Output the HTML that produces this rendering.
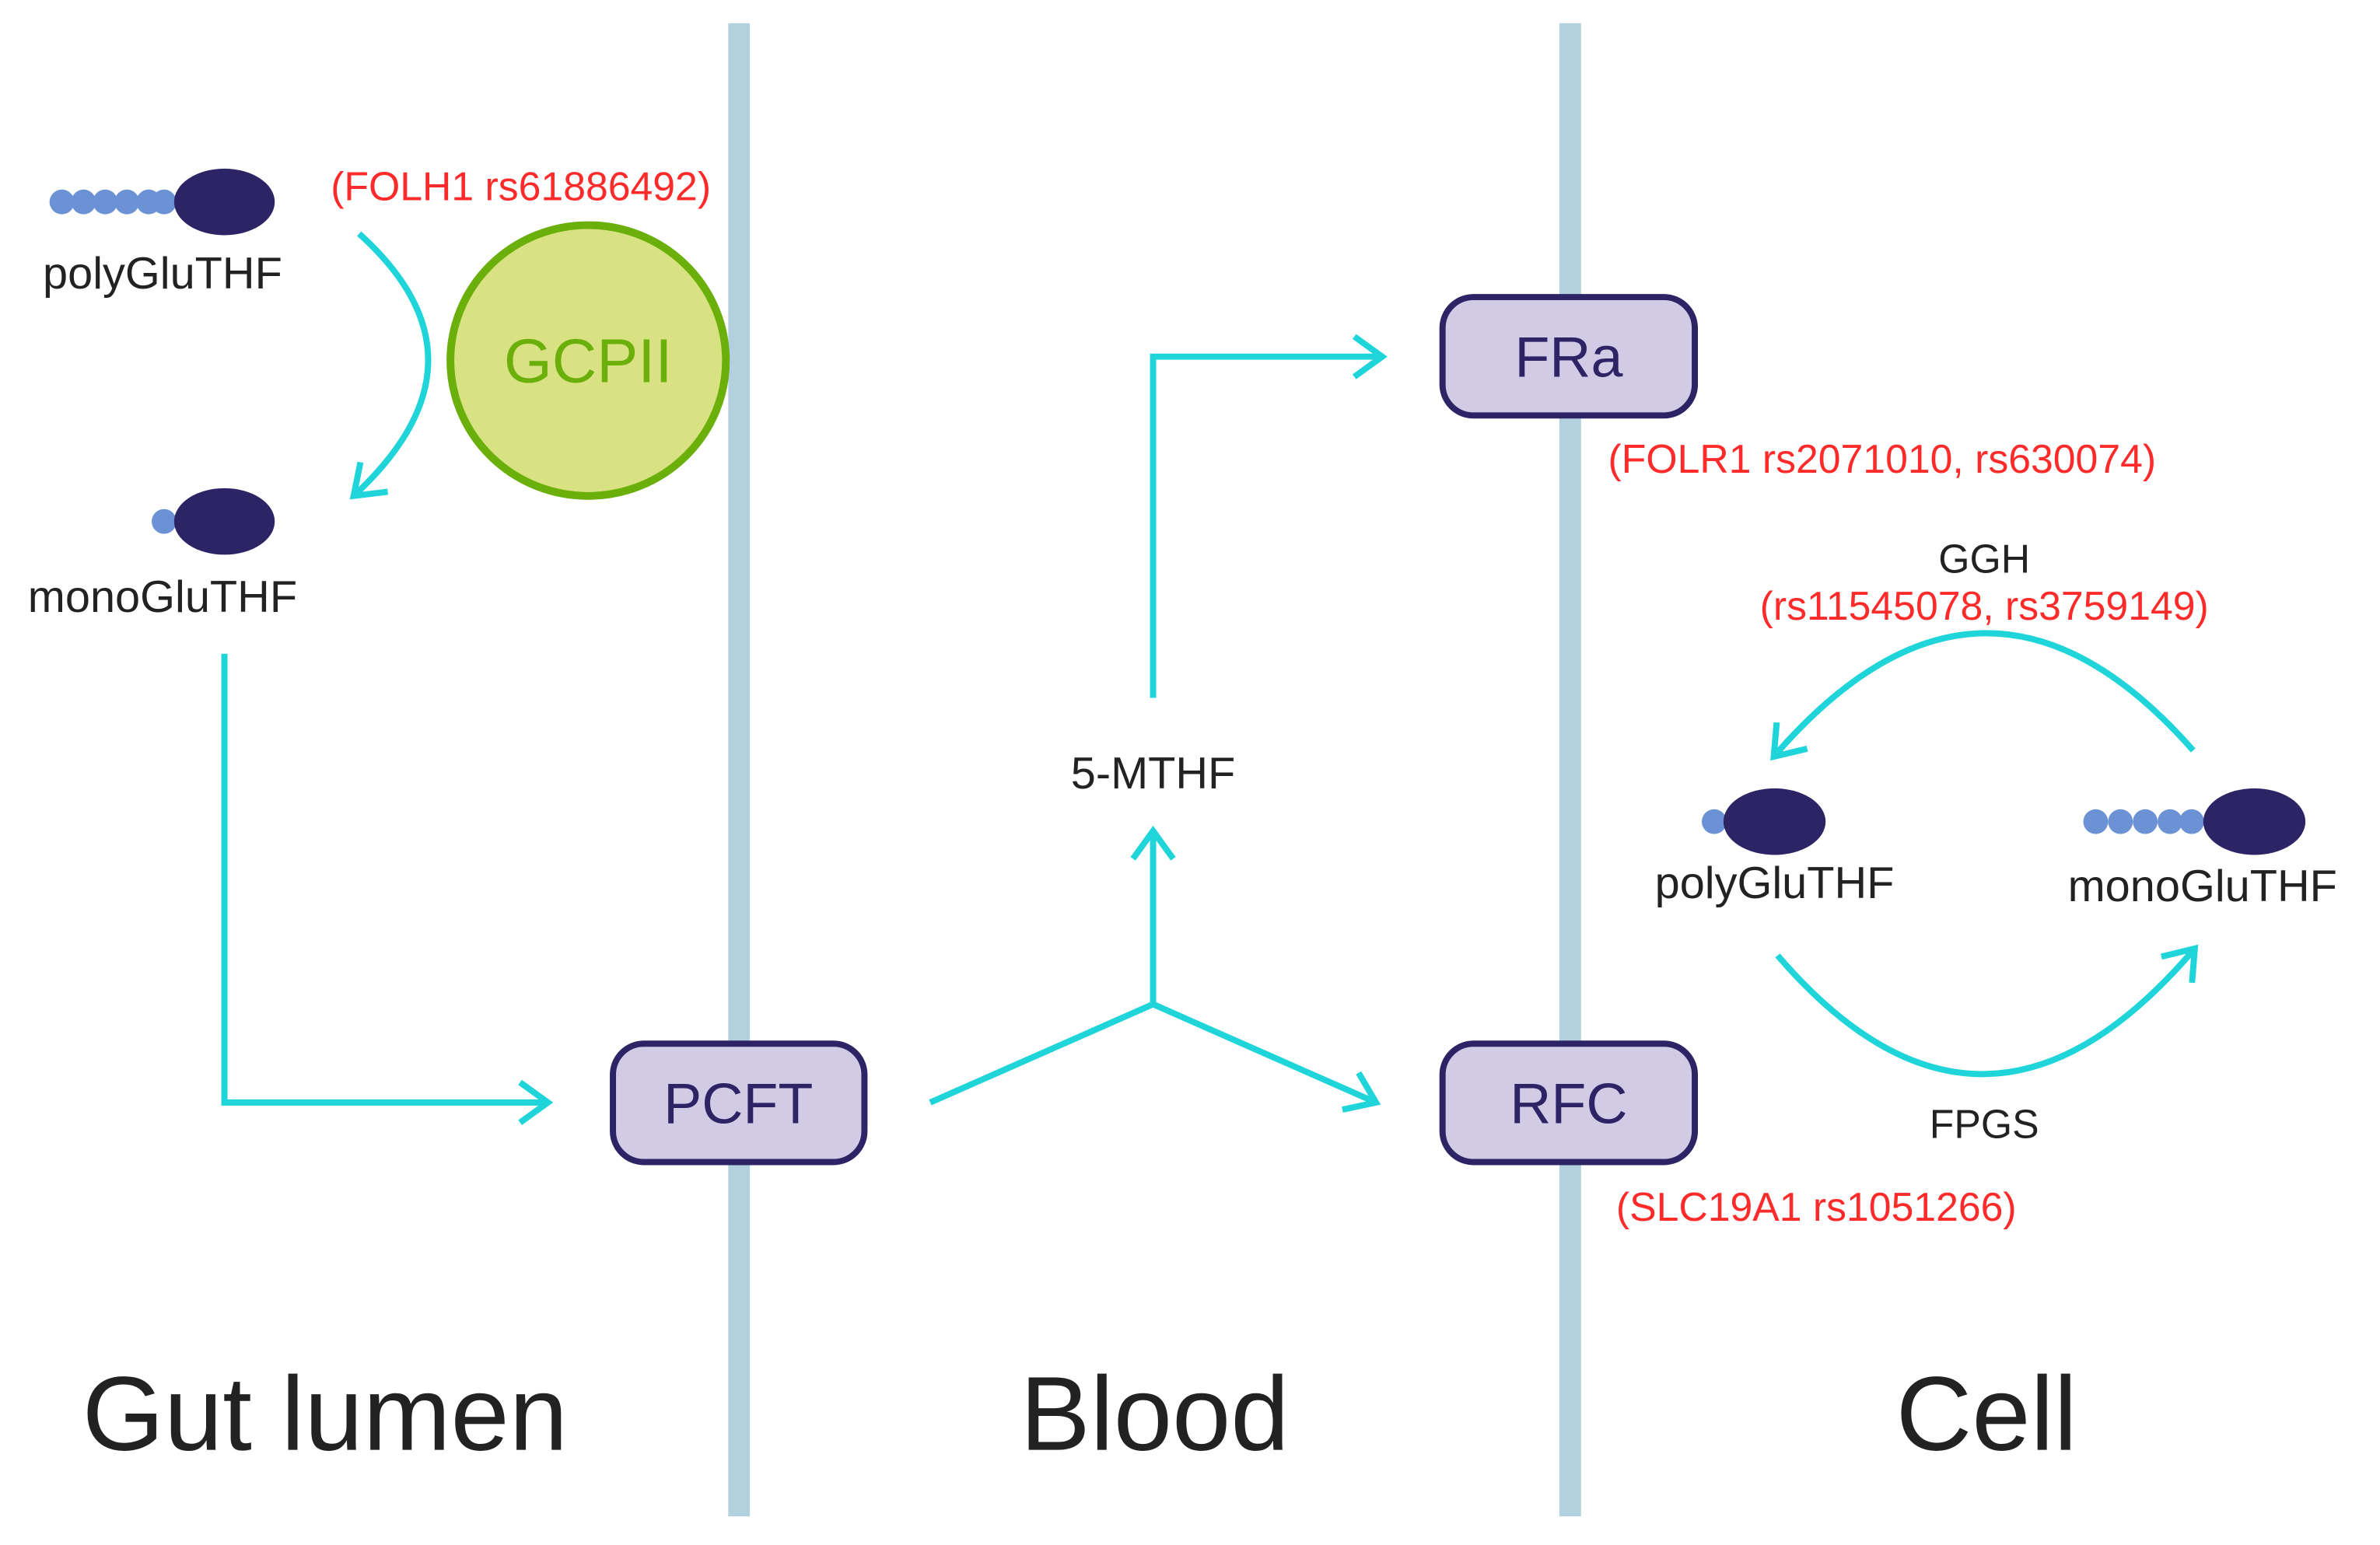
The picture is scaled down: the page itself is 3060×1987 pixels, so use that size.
<!DOCTYPE html>
<html><head><meta charset="utf-8"><style>
html,body{margin:0;padding:0;background:#fff;}
svg{display:block;}
text{font-family:"Liberation Sans",Arial,sans-serif;}
</style></head><body>
<svg width="3060" height="1987" viewBox="0 0 3060 1987" xmlns="http://www.w3.org/2000/svg">
<defs>
<marker id="ah" markerUnits="userSpaceOnUse" viewBox="-45 -35 55 70" refX="0" refY="0" markerWidth="55" markerHeight="70" orient="auto">
<path d="M-36,-26 L0,0 L-36,26" fill="none" stroke="#1fd5d9" stroke-width="8"/>
</marker>
</defs>
<rect width="3060" height="1987" fill="#fff"/>
<g transform="scale(0.995)">
<rect x="941" y="30" width="28" height="1930" fill="#b3d0df"/>
<rect x="2015" y="30" width="28" height="1930" fill="#b3d0df"/>

<g fill="#6a92d4">
<circle cx="80" cy="261" r="16"/><circle cx="108" cy="261" r="16"/><circle cx="136" cy="261" r="16"/><circle cx="164" cy="261" r="16"/><circle cx="192" cy="261" r="16"/><circle cx="212" cy="261" r="16"/>
</g>
<ellipse cx="290" cy="261" rx="65" ry="43" fill="#2d2466"/>
<text x="210" y="373" font-size="58" text-anchor="middle" fill="#222">polyGluTHF</text>
<text x="673" y="259" font-size="52" text-anchor="middle" fill="#ff2a2a">(FOLH1 rs61886492)</text>

<ellipse cx="760" cy="466" rx="178" ry="175" fill="#d8e283" stroke="#6aaf0a" stroke-width="10"/>
<text x="760" y="494" font-size="80" text-anchor="middle" fill="#6aaf0a">GCPII</text>

<path d="M464,302 Q646,466 457,641" fill="none" stroke="#1fd5d9" stroke-width="8" marker-end="url(#ah)"/>

<circle cx="212" cy="674" r="16" fill="#6a92d4"/>
<ellipse cx="290" cy="674" rx="65" ry="43" fill="#2d2466"/>
<text x="210" y="791" font-size="58" text-anchor="middle" fill="#222">monoGluTHF</text>

<path d="M290,845 L290,1425 L708,1425" fill="none" stroke="#1fd5d9" stroke-width="8" marker-end="url(#ah)"/>

<rect x="792" y="1349" width="325" height="153" rx="40" fill="#d1cbe6" stroke="#2d2466" stroke-width="8"/>
<text x="954" y="1452" font-size="74" text-anchor="middle" fill="#2d2466">PCFT</text>

<path d="M1202,1425 L1490,1298 L1778,1425" fill="none" stroke="#1fd5d9" stroke-width="8" marker-end="url(#ah)"/>
<path d="M1490,1298 L1490,1074" fill="none" stroke="#1fd5d9" stroke-width="8" marker-end="url(#ah)"/>
<text x="1490" y="1019" font-size="58" text-anchor="middle" fill="#222">5-MTHF</text>
<path d="M1490,902 L1490,461 L1786,461" fill="none" stroke="#1fd5d9" stroke-width="8" marker-end="url(#ah)"/>

<rect x="1864" y="384" width="326" height="153" rx="40" fill="#d1cbe6" stroke="#2d2466" stroke-width="8"/>
<text x="2027" y="487" font-size="74" text-anchor="middle" fill="#2d2466">FRa</text>
<text x="2432" y="611" font-size="52" text-anchor="middle" fill="#ff2a2a">(FOLR1 rs2071010, rs630074)</text>

<rect x="1864" y="1349" width="326" height="153" rx="40" fill="#d1cbe6" stroke="#2d2466" stroke-width="8"/>
<text x="2027" y="1452" font-size="74" text-anchor="middle" fill="#2d2466">RFC</text>
<text x="2347" y="1578" font-size="52" text-anchor="middle" fill="#ff2a2a">(SLC19A1 rs1051266)</text>

<text x="2564" y="740" font-size="52" text-anchor="middle" fill="#222">GGH</text>
<text x="2564" y="801" font-size="52" text-anchor="middle" fill="#ff2a2a">(rs11545078, rs3759149)</text>
<path d="M2834,970 Q2564,663 2292,978" fill="none" stroke="#1fd5d9" stroke-width="8" marker-end="url(#ah)"/>

<circle cx="2215" cy="1062" r="16" fill="#6a92d4"/>
<ellipse cx="2293" cy="1062" rx="66" ry="43" fill="#2d2466"/>
<text x="2293" y="1161" font-size="58" text-anchor="middle" fill="#222">polyGluTHF</text>

<g fill="#6a92d4">
<circle cx="2708" cy="1062" r="16"/><circle cx="2740" cy="1062" r="16"/><circle cx="2772" cy="1062" r="16"/><circle cx="2804" cy="1062" r="16"/><circle cx="2832" cy="1062" r="16"/>
</g>
<ellipse cx="2913" cy="1062" rx="66" ry="43" fill="#2d2466"/>
<text x="2846" y="1165" font-size="58" text-anchor="middle" fill="#222">monoGluTHF</text>

<path d="M2297,1235 Q2564,1546 2836,1226" fill="none" stroke="#1fd5d9" stroke-width="8" marker-end="url(#ah)"/>
<text x="2564" y="1471" font-size="52" text-anchor="middle" fill="#222">FPGS</text>

<text x="420" y="1874" font-size="136" text-anchor="middle" fill="#222">Gut lumen</text>
<text x="1492" y="1874" font-size="136" text-anchor="middle" fill="#222">Blood</text>
<text x="2567" y="1874" font-size="136" text-anchor="middle" fill="#222">Cell</text>
</g>
</svg>
</body></html>
